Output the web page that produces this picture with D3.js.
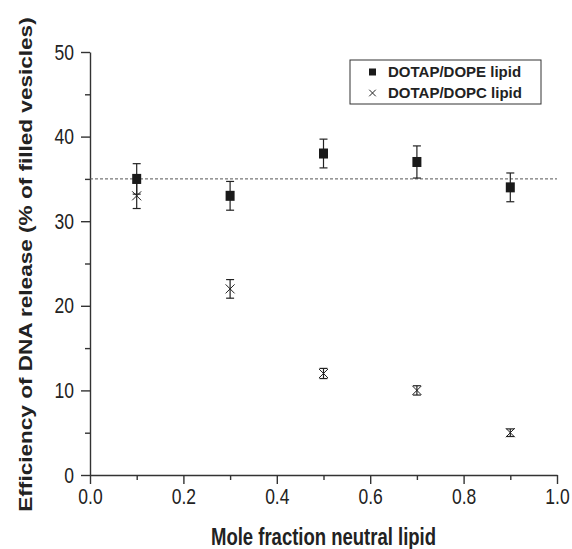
<!DOCTYPE html>
<html>
<head>
<meta charset="utf-8">
<script src="https://cdn.jsdelivr.net/npm/d3@7"></script>
<style>
  body { margin: 0; background: #fff; }
  svg { display: block; font-family: "Liberation Sans", Arial, sans-serif; }
</style>
</head>
<body>
<script>
// values
const moleFraction = [0.1, 0.3, 0.5, 0.7, 0.9];
const dopeRelease = [35, 33, 38, 37, 34];
const dopeError = [1.8, 1.7, 1.7, 1.9, 1.7];
const dopcRelease = [33, 22, 12, 10, 5];
const dopcError = [1.5, 1.1, 0.6, 0.55, 0.45];
const referenceLevel = 35;
const xMajorTicks = [0, 0.2, 0.4, 0.6, 0.8, 1.0];
const xMinorTicks = [0.1, 0.3, 0.5, 0.7, 0.9];
const yMajorTicks = [0, 10, 20, 30, 40, 50];
const yMinorTicks = [5, 15, 25, 35, 45];
const legendLabels = ["DOTAP/DOPE lipid", "DOTAP/DOPC lipid"];

const width = 572, height = 549;
const ink = "#222";
const stretch = 1.25; // text in the figure is drawn taller than wide

const svg = d3.select("body").append("svg")
    .attr("width", width)
    .attr("height", height);

const x = d3.scaleLinear().domain([0, 1]).range([90, 557]);
const y = d3.scaleLinear().domain([0, 50]).range([475, 52]);

// axes
svg.append("g")
    .attr("class", "x-axis")
    .attr("transform", "translate(0," + y(0) + ")")
    .call(d3.axisBottom(x).tickValues(xMajorTicks).tickFormat(d3.format(".1f")).tickSize(9).tickPadding(2).tickSizeOuter(0));
svg.append("g")
    .attr("transform", "translate(0," + y(0) + ")")
    .call(d3.axisBottom(x).tickValues(xMinorTicks).tickFormat("").tickSize(5).tickSizeOuter(0))
    .select(".domain").remove();

svg.append("g")
    .attr("class", "y-axis")
    .attr("transform", "translate(" + x(0) + ",0)")
    .call(d3.axisLeft(y).tickValues(yMajorTicks).tickSize(9).tickPadding(7).tickSizeOuter(0));
svg.append("g")
    .attr("transform", "translate(" + x(0) + ",0)")
    .call(d3.axisLeft(y).tickValues(yMinorTicks).tickFormat("").tickSize(5).tickSizeOuter(0))
    .select(".domain").remove();

svg.selectAll(".domain, .tick line").attr("stroke", "#333").attr("stroke-width", 1.4);
svg.selectAll(".tick text")
    .attr("font-size", 17.5)
    .attr("fill", "#222")
    .attr("font-family", "Liberation Sans, Arial, sans-serif")
    .attr("transform", "scale(1," + stretch + ")");

// axis titles
svg.append("text")
    .attr("transform", "translate(" + (x(0) + x(1)) / 2 + ",545) scale(1," + stretch + ")")
    .attr("text-anchor", "middle")
    .attr("font-size", 18.5)
    .attr("font-weight", "bold")
    .attr("fill", "#222")
    .text("Mole fraction neutral lipid");

svg.append("text")
    .attr("transform", "translate(32," + ((y(0) + y(50)) / 2 + 1) + ") scale(1,1.22) rotate(-90)")
    .attr("text-anchor", "middle")
    .attr("font-size", 18.5)
    .attr("font-weight", "bold")
    .attr("fill", "#222")
    .text("Efficiency of DNA release (% of filled vesicles)");

// dashed reference line
svg.append("line")
    .attr("x1", x(0)).attr("x2", x(1))
    .attr("y1", y(referenceLevel)).attr("y2", y(referenceLevel))
    .attr("stroke", "#555")
    .attr("stroke-width", 1)
    .attr("stroke-dasharray", "3,2");

const dope = moleFraction.map((m, i) => ({ m: m, v: dopeRelease[i], e: dopeError[i] }));
const dopc = moleFraction.map((m, i) => ({ m: m, v: dopcRelease[i], e: dopcError[i] }));

const drawErrors = (data, cls) => {
    const g = svg.append("g").attr("class", cls)
        .attr("stroke", ink).attr("stroke-width", 1.2);
    g.selectAll(".stem").data(data).enter().append("line")
        .attr("x1", d => x(d.m)).attr("x2", d => x(d.m))
        .attr("y1", d => y(d.v + d.e)).attr("y2", d => y(d.v - d.e));
    g.selectAll(".capTop").data(data).enter().append("line")
        .attr("x1", d => x(d.m) - 4).attr("x2", d => x(d.m) + 4)
        .attr("y1", d => y(d.v + d.e)).attr("y2", d => y(d.v + d.e));
    g.selectAll(".capBottom").data(data).enter().append("line")
        .attr("x1", d => x(d.m) - 4).attr("x2", d => x(d.m) + 4)
        .attr("y1", d => y(d.v - d.e)).attr("y2", d => y(d.v - d.e));
};

drawErrors(dopc, "dopc-err");
drawErrors(dope, "dope-err");

// DOPC crosses
const cross = d3.symbol().type(d3.symbolX).size(55);
svg.selectAll(".dopc").data(dopc).enter().append("path")
    .attr("class", "dopc")
    .attr("d", cross)
    .attr("transform", d => "translate(" + x(d.m) + "," + y(d.v) + ")")
    .attr("fill", "none")
    .attr("stroke", ink)
    .attr("stroke-width", 1);

// DOPE squares
svg.selectAll(".dope").data(dope).enter().append("rect")
    .attr("class", "dope")
    .attr("x", d => x(d.m) - 4.5)
    .attr("y", d => y(d.v) - 5)
    .attr("width", 9)
    .attr("height", 10)
    .attr("fill", "#1a1a1a");

// legend
const legend = svg.append("g");
legend.append("rect")
    .attr("x", 350).attr("y", 60)
    .attr("width", 191).attr("height", 44)
    .attr("fill", "#fff")
    .attr("stroke", "#333")
    .attr("stroke-width", 1);
legend.append("rect")
    .attr("x", 369).attr("y", 68.5)
    .attr("width", 7).attr("height", 7)
    .attr("fill", "#1a1a1a");
legend.append("path")
    .attr("d", d3.symbol().type(d3.symbolX).size(30)())
    .attr("transform", "translate(372.5,93)")
    .attr("fill", "none")
    .attr("stroke", ink)
    .attr("stroke-width", 1);
legend.selectAll(".lbl").data(legendLabels).enter().append("text")
    .attr("x", 388)
    .attr("y", (d, i) => 72 + i * 21)
    .attr("dy", "0.36em")
    .attr("font-size", 15)
    .attr("font-weight", "bold")
    .attr("fill", "#222")
    .text(d => d);
</script>
</body>
</html>
